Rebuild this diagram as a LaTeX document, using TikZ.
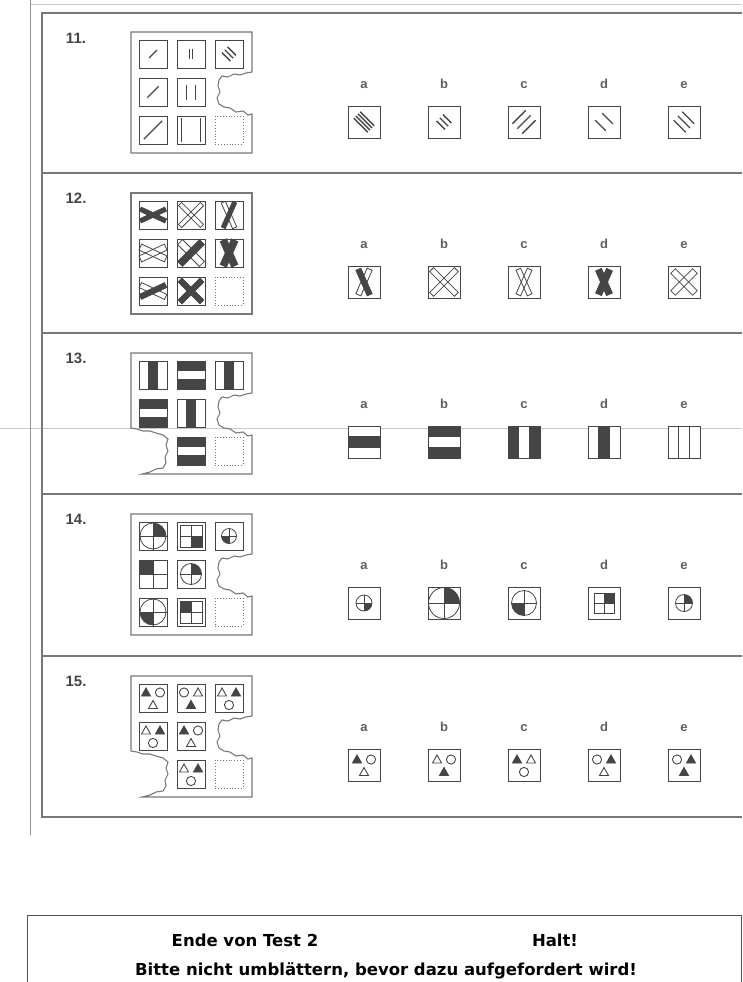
\documentclass[tikz,border=0pt]{standalone}
\usepackage{fontspec}
\setmainfont{Liberation Sans}
\newfontfamily\notefont{DejaVu Sans}
\usepackage{tikz}
\usetikzlibrary{positioning}
\definecolor{ink}{RGB}{68,70,70}
\definecolor{rulegray}{RGB}{120,120,120}
\definecolor{faintgray}{RGB}{200,200,200}
\definecolor{lettergray}{RGB}{95,95,95}

% torn edges of the matrix frames (offsets from the frame edge)
\newcommand{\tearR}{-6/41,-12/43,-18/42,-24/45,-30/44,-33/48,-34/54,-32/60,-35/66,-33/72,-28/75,-22/76,-16/80,-9/79,-4/83,0/82}
\newcommand{\tearL}{11/121,19/119,25/116,32/115,35/110,34/104,37/98,35/92,37/86,32/82,25/80,19/78,12/78,6/76,0/75}
\newcommand{\matrixframe}[2]{%
  \ifcase#2\relax
    \draw[frame] (131,#1) rectangle (252,#1+121);
  \or
    \draw[frame] (131,#1) -- (252,#1) -- (252,#1+40)
      \foreach \dx/\dy in \tearR {-- (252+\dx,#1+\dy)}
      -- (252,#1+121) -- (131,#1+121) -- cycle;
  \or
    \draw[frame] (131,#1) -- (252,#1) -- (252,#1+40)
      \foreach \dx/\dy in \tearR {-- (252+\dx,#1+\dy)}
      -- (252,#1+121)
      \foreach \dx/\dy in \tearL {-- (131+\dx,#1+\dy)}
      -- cycle;
  \fi}
% parallel strokes: node, angle, count, length, gap
\newcommand{\hatchset}[5]{%
  \begin{scope}[shift={(#1.center)}, rotate=#2]
    \foreach \k in {1,...,#3}
      \draw[hatch] ({(\k-(#3+1)/2)*#5},{-#4/2}) -- ++(0,#4);
  \end{scope}}
% crossed bars: node, angle, length, width, style of \, style of /
\newcommand{\xbar}[5]{%
  \begin{scope}[shift={(#1.center)}, rotate=#2]
    \draw[#5] ({-#3/2},{-#4/2}) rectangle ({#3/2},{#4/2});
  \end{scope}}
\newcommand{\xcross}[6]{\xbar{#1}{-#2}{#3}{#4}{#5}\xbar{#1}{#2}{#3}{#4}{#6}}
% three bands: node, size, fills
\newcommand{\vbands}[3]{%
  \begin{scope}[shift={(#1.center)}]
    \foreach \f [count=\k from 0] in {#3}
      \draw[draw=ink, line width=0.8pt, fill=\f] ({-#2/2+\k*#2/3},{-#2/2}) rectangle ++({#2/3},#2);
  \end{scope}}
\newcommand{\hbands}[3]{%
  \begin{scope}[shift={(#1.center)}]
    \foreach \f [count=\k from 0] in {#3}
      \draw[draw=ink, line width=0.8pt, fill=\f] ({-#2/2},{-#2/2+\k*#2/3}) rectangle ++(#2,{#2/3});
  \end{scope}}
% quartered circle / square: node, radius, x sign, y sign (, cross length)
\newcommand{\qcirc}[5]{%
  \begin{scope}[shift={(#1.center)}]
    \begin{scope}
      \clip (0,0) rectangle ({#3*#2},{#4*#2});
      \fill[ink] (0,0) circle (#2);
    \end{scope}
    \draw[ink, line width=0.8pt] (0,0) circle (#2);
    \draw[ink, line width=0.7pt] (-#5,0) -- (#5,0) (0,-#5) -- (0,#5);
  \end{scope}}
\newcommand{\qsq}[4]{%
  \begin{scope}[shift={(#1.center)}]
    \fill[ink] (0,0) rectangle ({#3*#2},{#4*#2});
    \draw[ink, line width=0.8pt] (-#2,-#2) rectangle (#2,#2) (-#2,0) -- (#2,0) (0,-#2) -- (0,#2);
  \end{scope}}
% two shapes on top, one below
\newcommand{\trio}[4]{%
  \begin{scope}[shift={(#1.center)}]
    \pic at (-7,-5.5) {#2};
    \pic at (7,-5.5) {#3};
    \pic at (0,7) {#4};
  \end{scope}}

\begin{document}
\begin{tikzpicture}[x=1pt, y=-1pt,
  frame/.style={draw=rulegray, line width=1.1pt},
  rowrule/.style={draw=rulegray, line width=1.3pt},
  cell/.style={draw=ink, line width=0.9pt, minimum size=28pt, inner sep=0pt},
  blank/.style={draw=rulegray, dotted, line width=0.9pt, minimum size=28pt, inner sep=0pt},
  choice/.style={draw=ink, line width=0.9pt, minimum size=32pt, inner sep=0pt},
  numtag/.style={font=\bfseries\fontsize{15}{17}\selectfont, text=ink},
  letter/.style={font=\bfseries\fontsize{13}{15}\selectfont, text=lettergray, text height=9pt, text depth=0pt, inner sep=3pt},
  note/.style={font=\notefont\bfseries\fontsize{16.5}{19}\selectfont},
  hatch/.style={draw=ink, line width=1.3pt},
  darkbar/.style={fill=ink, draw=ink, line width=0.6pt},
  openbar/.style={draw=ink, line width=0.8pt},
  glyph/.style={draw=ink, line width=0.9pt},
  tri/.pic={\draw[glyph] (-4.5,3.5) -- (4.5,3.5) -- (0,-4.5) -- cycle;},
  ftri/.pic={\filldraw[glyph, fill=ink] (-4.5,3.5) -- (4.5,3.5) -- (0,-4.5) -- cycle;},
  ring/.pic={\draw[glyph] (0,0) circle (4.6);}
]
\useasboundingbox (0,0) rectangle (742,982);

% page rules
\draw[faintgray, line width=0.6pt] (0,428) -- (742,428);
\draw[faintgray, line width=0.8pt] (30,4) -- (742,4);
\draw[rulegray!80, line width=0.9pt] (30,0) -- (30,835);
\draw[rowrule] (742,13) -- (42,13) -- (42,817) -- (742,817);
\foreach \y in {173,333,494,656}
  \draw[rowrule] (42,\y) -- (742,\y);

% numbers, letters and answer boxes
\foreach \n/\y in {11/13,12/173,13/333,14/494,15/656} {
  \node[numtag] (n\n) at (76,\y+25) {\n.};
  \foreach \L [count=\i from 0] in {a,b,c,d,e} {
    \node[choice] (a\n\L) at ({364+80*\i},\y+109) {};
    \node[letter, above=14pt of a\n\L] (l\n\L) {\L};
  }
}

% matrix cells
\foreach \n/\my/\cells in {11/32/{1/1,1/2,1/3,2/1,2/2,3/1,3/2},
    12/193/{1/1,1/2,1/3,2/1,2/2,2/3,3/1,3/2},
    13/353/{1/1,1/2,1/3,2/1,2/2,3/2},
    14/514/{1/1,1/2,1/3,2/1,2/2,3/1,3/2},
    15/676/{1/1,1/2,1/3,2/1,2/2,3/2}} {
  \foreach \r/\c in \cells
    \node[cell] (c\n-\r-\c) at ({115+38*\c},{\my+38*\r-16}) {};
  \node[blank] (c\n-3-3) at (229,{\my+98}) {};
}
\matrixframe{32}{1}
\matrixframe{193}{0}
\matrixframe{353}{2}
\matrixframe{514}{1}
\matrixframe{676}{2}

% 11
\hatchset{c11-1-1}{-45}{1}{11}{0}
\hatchset{c11-1-2}{0}{2}{10}{3.3}
\hatchset{c11-1-3}{45}{3}{12}{4}
\hatchset{c11-2-1}{-45}{1}{16}{0}
\hatchset{c11-2-2}{0}{2}{15}{8.5}
\hatchset{c11-3-1}{-45}{1}{26}{0}
\hatchset{c11-3-2}{0}{2}{24}{19}
\hatchset{a11a}{45}{4}{20}{3}
\hatchset{a11b}{45}{3}{12}{4.5}
\hatchset{a11c}{-45}{3}{19}{7}
\hatchset{a11d}{45}{2}{15}{10}
\hatchset{a11e}{45}{3}{17}{6}

% 12
\xcross{c12-1-1}{25}{28}{4.5}{darkbar}{darkbar}
\xcross{c12-1-2}{45}{31}{4.5}{openbar}{openbar}
\xcross{c12-1-3}{66}{28}{4.5}{openbar}{darkbar}
\xcross{c12-2-1}{25}{28}{6.5}{openbar}{openbar}
\xcross{c12-2-2}{45}{31}{7}{openbar}{darkbar}
\xcross{c12-2-3}{66}{28}{7}{darkbar}{darkbar}
\xcross{c12-3-1}{25}{28}{5.5}{openbar}{darkbar}
\xcross{c12-3-2}{45}{31}{5.5}{darkbar}{darkbar}
\xcross{a12a}{66}{28}{5.5}{darkbar}{openbar}
\xcross{a12b}{45}{35}{5.5}{openbar}{openbar}
\xcross{a12c}{66}{28}{5}{openbar}{openbar}
\xcross{a12d}{66}{27}{6.5}{darkbar}{darkbar}
\xcross{a12e}{45}{31}{6.5}{openbar}{openbar}

% 13
\vbands{c13-1-1}{28}{white,ink,white}
\hbands{c13-1-2}{28}{ink,white,ink}
\vbands{c13-1-3}{28}{white,ink,white}
\hbands{c13-2-1}{28}{ink,white,ink}
\vbands{c13-2-2}{28}{white,ink,white}
\hbands{c13-3-2}{28}{ink,white,ink}
\hbands{a13a}{32}{white,ink,white}
\hbands{a13b}{32}{ink,white,ink}
\vbands{a13c}{32}{ink,white,ink}
\vbands{a13d}{32}{white,ink,white}
\vbands{a13e}{32}{white,white,white}

% 14
\qcirc{c14-1-1}{13}{1}{-1}{14}
\qsq{c14-1-2}{11}{1}{1}
\qcirc{c14-1-3}{7.5}{-1}{1}{7.5}
\qsq{c14-2-1}{14}{-1}{-1}
\qcirc{c14-2-2}{10.5}{1}{-1}{10.5}
\qcirc{c14-3-1}{13}{-1}{1}{14}
\qsq{c14-3-2}{11}{-1}{-1}
\qcirc{a14a}{8}{1}{1}{8}
\qcirc{a14b}{15.5}{1}{-1}{16}
\qcirc{a14c}{12.5}{-1}{1}{12.5}
\qsq{a14d}{10}{1}{-1}
\qcirc{a14e}{8.5}{1}{-1}{8.5}

% 15
\trio{c15-1-1}{ftri}{ring}{tri}
\trio{c15-1-2}{ring}{tri}{ftri}
\trio{c15-1-3}{tri}{ftri}{ring}
\trio{c15-2-1}{tri}{ftri}{ring}
\trio{c15-2-2}{ftri}{ring}{tri}
\trio{c15-3-2}{tri}{ftri}{ring}
\trio{a15a}{ftri}{ring}{tri}
\trio{a15b}{tri}{ring}{ftri}
\trio{a15c}{ftri}{tri}{ring}
\trio{a15d}{ring}{ftri}{tri}
\trio{a15e}{ring}{ftri}{ftri}

% closing box
\draw[draw=rulegray!70!black, line width=1pt] (27,982) -- (27,915) -- (741,915) -- (741,982);
\node[note, anchor=base] (ende) at (245,946) {Ende von Test 2};
\node[note, anchor=base] (halt) at (555,946) {Halt!};
\node[note, anchor=base] (bitte) at (386,975) {Bitte nicht umblättern, bevor dazu aufgefordert wird!};
\end{tikzpicture}
\end{document}
